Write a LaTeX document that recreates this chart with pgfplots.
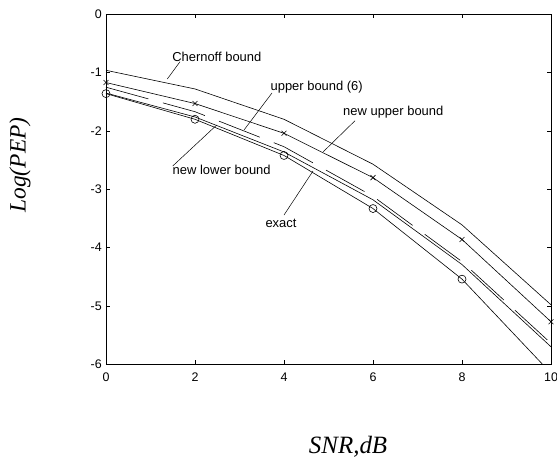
\documentclass[border=0pt]{standalone}
\usepackage{fontspec}
\setmainfont{Liberation Sans}
\newfontfamily\timesfont{Liberation Serif}
\usepackage{pgfplots}
\pgfplotsset{compat=1.18}
\begin{document}
\begin{tikzpicture}
\begin{axis}[
  name=ax, at={(0,0)}, anchor=south west,
  scale only axis, width=445bp, height=350bp,
  xmin=0, xmax=10, ymin=-6, ymax=0,
  xtick={0,2,4,6,8,10}, ytick={-6,-5,-4,-3,-2,-1,0},
  tick align=inside, major tick length=4bp,
  tick style={black, line width=0.5bp},
  axis line style={black, line width=0.9bp},
  /pgf/number format/assume math mode=true,
  ticklabel style={font=\fontsize{12.5}{14}\selectfont, inner sep=0pt},
  xticklabel style={yshift=-8bp},
  yticklabel style={xshift=-4bp},
  clip=false,
  every axis plot/.append style={black, line width=0.6bp},
]
% Chernoff bound
\addplot[mark=none] coordinates {(0,-0.96) (2,-1.28) (4,-1.80) (6,-2.57) (8,-3.61) (10,-4.98)};
% new upper bound (x marks)
\addplot[mark=x, mark size=3.5bp, mark options={solid, line width=0.6bp}] coordinates {(0,-1.17) (2,-1.53) (4,-2.04) (6,-2.80) (8,-3.86) (10,-5.27)};
% upper bound (6), dashed
\addplot[mark=none, dash pattern=on 44bp off 15bp] coordinates {(0,-1.25) (2,-1.67) (4,-2.27) (6,-3.12) (8,-4.24) (10,-5.64)};
% new lower bound
\addplot[mark=none] coordinates {(0,-1.35) (2,-1.76) (4,-2.36) (6,-3.18) (8,-4.29) (10,-5.70)};
% exact
\addplot[mark=none] coordinates {(0,-1.36) (2,-1.80) (4,-2.42) (6,-3.33) (8,-4.54) (9.81,-6.0)};
\addplot[only marks, mark=o, mark size=4bp, mark options={line width=0.6bp}] coordinates {(0,-1.36) (2,-1.80) (4,-2.42) (6,-3.33) (8,-4.54)};
% annotations
\begin{scope}[every node/.style={font=\fontsize{13}{15}\selectfont, inner sep=0pt}]
\node at (axis cs:2.49,-0.727) {Chernoff bound};
\draw[line width=0.5bp] (axis cs:1.663,-0.813) -- (axis cs:1.378,-1.109);
\node at (axis cs:4.735,-1.251) {upper bound (6)};
\draw[line width=0.5bp] (axis cs:3.730,-1.349) -- (axis cs:3.101,-1.984);
\node at (axis cs:6.456,-1.670) {new upper bound};
\draw[line width=0.5bp] (axis cs:5.596,-1.824) -- (axis cs:4.883,-2.356);
\node at (axis cs:2.600,-2.669) {new lower bound};
\draw[line width=0.5bp] (axis cs:2.488,-1.898) -- (axis cs:1.499,-2.601);
\node at (axis cs:3.933,-3.578) {exact};
\draw[line width=0.5bp] (axis cs:4.0,-3.441) -- (axis cs:4.652,-2.687);
\end{scope}
\node[font=\fontsize{25}{28}\timesfont\itshape] at (axis cs:5.44,-7.418) {SNR,dB};
\node[font=\fontsize{23.5}{26}\timesfont\itshape, rotate=90] at (axis cs:-1.933,-2.584) {Log(PEP)};
\end{axis}
\pgfresetboundingbox
\path ([shift={(-106bp,-96.7bp)}]ax.south west) rectangle ([shift={(6bp,14.3bp)}]ax.north east);
\end{tikzpicture}
\end{document}
